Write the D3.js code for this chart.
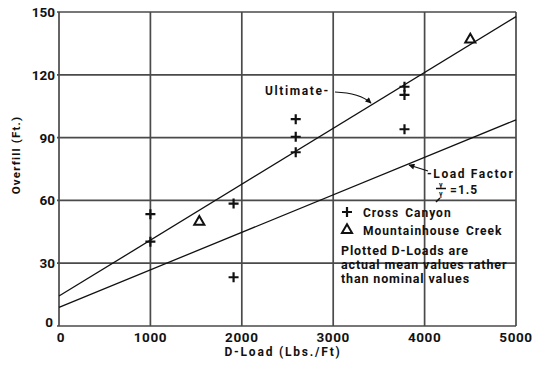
<!DOCTYPE html>
<html>
<head>
<meta charset="utf-8">
<script src="https://cdn.jsdelivr.net/npm/d3@7"></script>
<style>
  body { margin: 0; background: #fff; }
  svg text { font-family: Roboto, "DejaVu Sans", sans-serif; font-weight: 700; fill: #111; }
</style>
</head>
<body>
<svg id="chart" width="536" height="370"></svg>
<script>
// D-Load ticks and overfill ticks
const xTicks = [0, 1000, 2000, 3000, 4000, 5000];
const yTicks = [0, 30, 60, 90, 120, 150];

// Cross Canyon points (D-Load, Overfill)
const crossLoad = [1000, 1000, 1910, 1910, 2590, 2590, 2590, 3780, 3780, 3780];
const crossFill = [53.4, 40.3, 58.5, 23.3, 98.8, 90.4, 83.0, 114.3, 110.4, 94.0];

// Mountainhouse Creek points
const mhLoad = [1535, 4500];
const mhFill = [49.8, 136.8];

// fitted lines, end points
const ultimateLoad = [0, 5000];
const ultimateFill = [14.3, 147.8];
const factorLoad = [0, 5000];
const factorFill = [8.9, 98.5];

const svg = d3.select("#chart");
const margin = { left: 59, right: 20, top: 12, bottom: 44 };
const W = 536, H = 370;

const x = d3.scaleLinear().domain([0, 5000]).range([margin.left, W - margin.right]);
const y = d3.scaleLinear().domain([0, 150]).range([H - margin.bottom, margin.top]);

// grid
const grid = svg.append("g").attr("stroke", "#4a4a4a").attr("stroke-width", 1.7);
grid.selectAll("line.v")
  .data(xTicks)
  .enter()
  .append("line")
  .attr("x1", (d) => x(d))
  .attr("x2", (d) => x(d))
  .attr("y1", y(0))
  .attr("y2", y(150));
grid.selectAll("line.h")
  .data(yTicks)
  .enter()
  .append("line")
  .attr("x1", x(0) - 2)
  .attr("x2", x(5000))
  .attr("y1", (d) => y(d))
  .attr("y2", (d) => y(d));

// tick labels
svg.selectAll("text.xt")
  .data(xTicks)
  .enter()
  .append("text")
  .attr("class", "xt")
  .attr("x", (d) => x(d) + (d === 0 ? 2 : 0))
  .attr("y", y(0) + 16)
  .attr("text-anchor", "middle")
  .attr("font-size", "13.5px")
  .attr("letter-spacing", "0.6px")
  .text((d) => d);

svg.selectAll("text.yt")
  .data(yTicks)
  .enter()
  .append("text")
  .attr("class", "yt")
  .attr("x", (d) => x(0) - (d === 0 ? 6 : 4))
  .attr("y", (d) => y(d) + (d === 0 ? 1 : 5))
  .attr("text-anchor", "end")
  .attr("font-size", "13.5px")
  .text((d) => d);

// axis titles
svg.append("text")
  .attr("x", 283)
  .attr("y", 356)
  .attr("text-anchor", "middle")
  .attr("font-size", "12px")
  .attr("letter-spacing", "1.8px")
  .text("D-Load (Lbs./Ft)");

svg.append("text")
  .attr("transform", "translate(20,155) rotate(-90)")
  .attr("text-anchor", "middle")
  .attr("font-size", "11.5px")
  .attr("letter-spacing", "1.2px")
  .text("Overfill (Ft.)");

// fitted lines
const line = d3.line().x((d) => x(d[0])).y((d) => y(d[1]));
svg.append("path")
  .datum(d3.zip(ultimateLoad, ultimateFill))
  .attr("d", line)
  .attr("fill", "none")
  .attr("stroke", "#111")
  .attr("stroke-width", 1.3);
svg.append("path")
  .datum(d3.zip(factorLoad, factorFill))
  .attr("d", line)
  .attr("fill", "none")
  .attr("stroke", "#111")
  .attr("stroke-width", 1.3);

// Cross Canyon marks
svg.selectAll("path.cross")
  .data(d3.zip(crossLoad, crossFill))
  .enter()
  .append("path")
  .attr("class", "cross")
  .attr("d", (d) => `M${x(d[0]) - 5},${y(d[1])}h10M${x(d[0])},${y(d[1]) - 5}v10`)
  .attr("stroke", "#111")
  .attr("stroke-width", 2.2);

// Mountainhouse Creek marks
const tri = d3.symbol().type(d3.symbolTriangle).size(44);
svg.selectAll("path.tri")
  .data(d3.zip(mhLoad, mhFill))
  .enter()
  .append("path")
  .attr("class", "tri")
  .attr("transform", (d) => `translate(${x(d[0])},${y(d[1])})`)
  .attr("d", tri)
  .attr("fill", "none")
  .attr("stroke", "#111")
  .attr("stroke-width", 2);

// arrow heads
svg.append("defs")
  .append("marker")
  .attr("id", "arrow")
  .attr("viewBox", "0 0 10 10")
  .attr("refX", 9)
  .attr("refY", 5)
  .attr("markerWidth", 7)
  .attr("markerHeight", 5)
  .attr("orient", "auto")
  .append("path")
  .attr("d", "M0,0L10,5L0,10z")
  .attr("fill", "#111");

// Ultimate label
svg.append("text")
  .attr("x", 265)
  .attr("y", 95)
  .attr("font-size", "12px")
  .attr("letter-spacing", "1.6px")
  .text("Ultimate-");
svg.append("path")
  .attr("d", "M335,92Q360,93 371,103")
  .attr("fill", "none")
  .attr("stroke", "#111")
  .attr("stroke-width", 1.2)
  .attr("marker-end", "url(#arrow)");

// Load Factor label
svg.append("text")
  .attr("x", 427)
  .attr("y", 178)
  .attr("font-size", "12px")
  .attr("letter-spacing", "1.6px")
  .text("-Load Factor");
svg.append("path")
  .attr("d", "M428,171L409,165")
  .attr("fill", "none")
  .attr("stroke", "#111")
  .attr("stroke-width", 1.2)
  .attr("marker-end", "url(#arrow)");

// gamma ratio
svg.append("text")
  .attr("x", 439)
  .attr("y", 186.5)
  .attr("font-size", "7px")
  .text("γ");
svg.append("text")
  .attr("x", 439)
  .attr("y", 196)
  .attr("font-size", "7px")
  .text("γ");
svg.append("path")
  .attr("d", "M436,188.5h10M440,198L436,202")
  .attr("stroke", "#111")
  .attr("stroke-width", 1.5);
svg.append("text")
  .attr("x", 450)
  .attr("y", 194)
  .attr("font-size", "12px")
  .attr("letter-spacing", "1px")
  .text("=1.5");

// legend
const legendItems = ["Cross Canyon", "Mountainhouse Creek"];
svg.append("path")
  .attr("d", "M342,212h10M347,207v10")
  .attr("stroke", "#111")
  .attr("stroke-width", 2.2);
svg.append("path")
  .attr("transform", "translate(347,230)")
  .attr("d", tri)
  .attr("fill", "none")
  .attr("stroke", "#111")
  .attr("stroke-width", 2);
svg.selectAll("text.leg")
  .data(legendItems)
  .enter()
  .append("text")
  .attr("class", "leg")
  .attr("x", 363)
  .attr("y", (d, i) => 217 + i * 18)
  .attr("font-size", "12px")
  .attr("letter-spacing", "1px")
  .attr("word-spacing", "2px")
  .text((d) => d);

const noteLines = ["Plotted D-Loads are", "actual mean values rather", "than nominal values"];
svg.selectAll("text.note")
  .data(noteLines)
  .enter()
  .append("text")
  .attr("class", "note")
  .attr("x", 341)
  .attr("y", (d, i) => 255 + i * 14)
  .attr("font-size", "12.5px")
  .attr("letter-spacing", "0.85px")
  .text((d) => d);
</script>
</body>
</html>
